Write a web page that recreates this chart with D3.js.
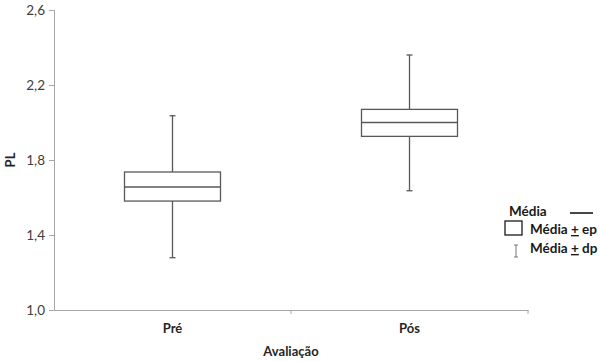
<!DOCTYPE html>
<html><head><meta charset="utf-8">
<script src="https://cdn.jsdelivr.net/npm/d3@7"></script>
<style>body{margin:0;background:#fff}text{font-family:Lato,"Open Sans",sans-serif}</style>
</head><body><svg id="c" width="600" height="361"></svg>
<script>
const categories = ["Pré", "Pós"];
const media = [1.656, 2.0];
const epLow = [1.581, 1.926];
const epHigh = [1.736, 2.07];
const dpLow = [1.279, 1.636];
const dpHigh = [2.036, 2.36];
const yTicks = [1.0, 1.4, 1.8, 2.2, 2.6];

const svg = d3.select("#c");
const m = {l:54, r:72, t:10, b:51};
const W = 600, H = 361;
const x = d3.scaleBand().domain(categories).range([m.l, W - m.r]);
const y = d3.scaleLinear().domain([1.0, 2.6]).range([H - m.b, m.t]);
const axisCol = "#a6a6a6", lineCol = "#595959";

// y axis
const ya = svg.append("g").attr("transform", `translate(${m.l},0)`)
  .call(d3.axisLeft(y).tickValues(yTicks).tickSize(5).tickFormat(d => d3.format(".1f")(d).replace(".", ",")));
ya.select(".domain").attr("stroke", axisCol);
ya.selectAll(".tick line").attr("stroke", axisCol);
ya.selectAll(".tick text").attr("fill", "#404040").style("font-size", "13.5px").attr("x", -9);

// x axis
const xa = svg.append("g").attr("transform", `translate(0,${H - m.b})`)
  .call(d3.axisBottom(x).tickSize(0).tickSizeOuter(0));
xa.select(".domain").attr("stroke", axisCol);
xa.selectAll(".tick text").attr("fill", "#262626").style("font-size", "13px").style("font-weight", "bold").attr("dy", "1.5em");
// boundary ticks
const bounds = [x.range()[0] + x.step(), x.range()[1]];
svg.append("g").selectAll("line").data(bounds).join("line")
  .attr("x1", d => d).attr("x2", d => d).attr("y1", H - m.b).attr("y2", H - m.b + 4)
  .attr("stroke", axisCol);

const bw = 96, cap = 6;
const g = svg.append("g");
categories.forEach((c, i) => {
  const cx = x(c) + x.bandwidth() / 2;
  g.append("line").attr("x1", cx).attr("x2", cx).attr("y1", y(dpHigh[i])).attr("y2", y(epHigh[i])).attr("stroke", lineCol).attr("stroke-width", 1.3);
  g.append("line").attr("x1", cx).attr("x2", cx).attr("y1", y(epLow[i])).attr("y2", y(dpLow[i])).attr("stroke", lineCol).attr("stroke-width", 1.3);
  [dpHigh[i], dpLow[i]].forEach(v => g.append("line").attr("x1", cx - cap/2).attr("x2", cx + cap/2).attr("y1", y(v)).attr("y2", y(v)).attr("stroke", lineCol).attr("stroke-width", 1.3));
  g.append("rect").attr("x", cx - bw/2).attr("y", y(epHigh[i])).attr("width", bw).attr("height", y(epLow[i]) - y(epHigh[i]))
    .attr("fill", "#fff").attr("stroke", lineCol).attr("stroke-width", 1.3);
  g.append("line").attr("x1", cx - bw/2).attr("x2", cx + bw/2).attr("y1", y(media[i])).attr("y2", y(media[i])).attr("stroke", lineCol).attr("stroke-width", 1.6);
});

// axis titles
svg.append("text").attr("transform", `translate(15,${(m.t + H - m.b)/2}) rotate(-90)`).attr("text-anchor", "middle")
  .style("font-size", "13px").style("font-weight", "bold").attr("fill", "#262626").text("PL");
svg.append("text").attr("x", x.range()[0] + (x.range()[1] - x.range()[0]) / 2).attr("y", 356).attr("text-anchor", "middle")
  .style("font-size", "13px").style("font-weight", "bold").attr("fill", "#262626").text("Avaliação");

// legend
const lg = svg.append("g").style("font-size", "13.5px").style("font-weight", "bold").attr("fill", "#1a1a1a");
lg.append("text").attr("x", 509).attr("y", 216).text("Média");
lg.append("line").attr("x1", 570).attr("x2", 593).attr("y1", 213).attr("y2", 213).attr("stroke", "#1a1a1a").attr("stroke-width", 1.6);
lg.append("rect").attr("x", 505).attr("y", 221).attr("width", 17).attr("height", 14).attr("fill", "#fff").attr("stroke", "#1a1a1a").attr("stroke-width", 1.3);
const t1 = lg.append("text").attr("x", 530).attr("y", 234);
t1.append("tspan").text("Média ");
t1.append("tspan").attr("text-decoration", "underline").text("+");
t1.append("tspan").text(" ep");
const t2 = lg.append("text").attr("x", 530).attr("y", 253);
t2.append("tspan").text("Média ");
t2.append("tspan").attr("text-decoration", "underline").text("+");
t2.append("tspan").text(" dp");
lg.append("line").attr("x1", 516).attr("x2", 516).attr("y1", 245).attr("y2", 257).attr("stroke", "#777");
lg.append("line").attr("x1", 514).attr("x2", 518).attr("y1", 245).attr("y2", 245).attr("stroke", "#777");
lg.append("line").attr("x1", 514).attr("x2", 518).attr("y1", 257).attr("y2", 257).attr("stroke", "#777");
</script></body></html>
